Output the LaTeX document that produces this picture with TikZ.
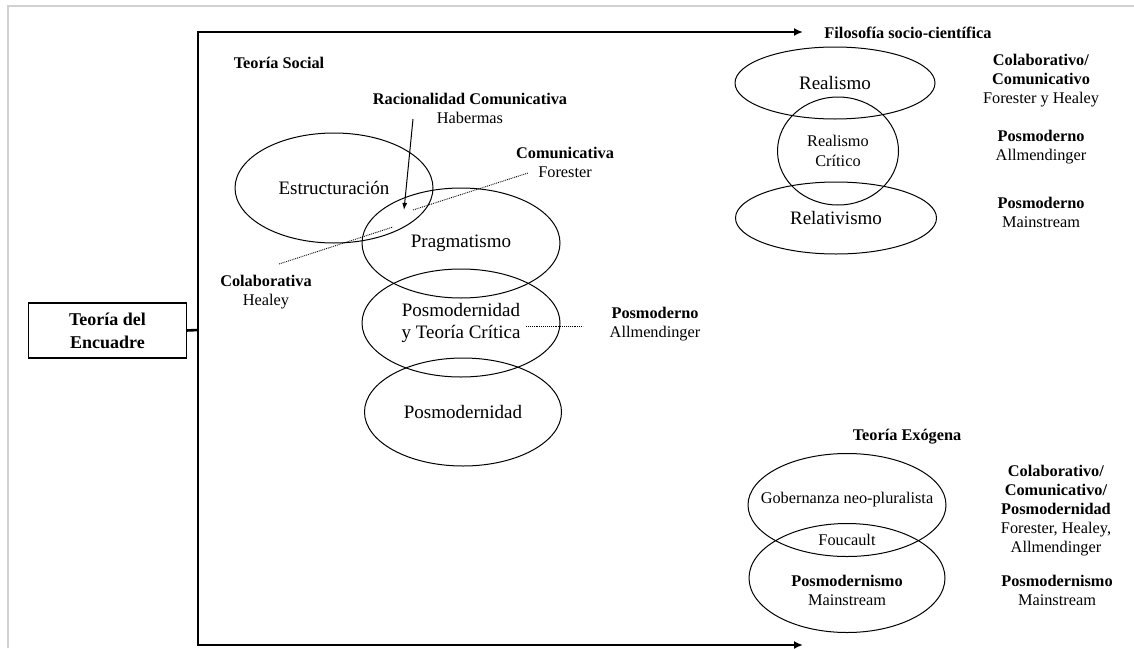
\documentclass[tikz,border=0pt]{standalone}
\usepackage{fontspec}
\setmainfont{Liberation Serif}
\usetikzlibrary{arrows.meta,shapes.geometric}

\tikzset{
  every node/.style={inner sep=0pt, outer sep=0pt},
  oval/.style={ellipse, draw, line width=1pt, align=center,
    font=\fontsize{19}{22}\selectfont},
  small/.style={align=center, font=\fontsize{16.3}{19}\selectfont},
  head/.style={align=center, font=\fontsize{16.3}{19}\selectfont\bfseries},
  frameline/.style={draw=black!18, line width=1.5pt},
  bracket/.style={line width=2.6pt},
  link/.style={densely dotted, line width=0.9pt},
  tip/.style={-{Latex[length=7pt,width=5pt]}},
}

\begin{document}
\begin{tikzpicture}[x=1pt,y=-1pt]
\useasboundingbox (0,0) rectangle (1134,648);
\fill[white] (0,0) rectangle (1134,648);

% page edge
\draw[frameline] (8,648) -- (8,6) -- (1134,6);

% main box and bracket
\node[draw, line width=1.3pt, minimum width=158pt, minimum height=55pt,
      align=center, font=\fontsize{18}{23}\selectfont\bfseries]
  (enc) at (107.5,330.5) {Teoría del\\Encuadre};
\coordinate (tl) at (198,32);
\coordinate (tr) at (803,32);
\coordinate (bl) at (198,645);
\coordinate (brr) at (803,645);
\coordinate (jn) at (198,330);
\draw[bracket, {Latex[length=9pt,width=8pt]}-{Latex[length=9pt,width=8pt]}]
  (tr) -- (tl) -- (bl) -- (brr);
\draw[bracket] (enc.east) -- (jn);

% ---- social theory block
\node[head] (soc) at (279,63) {Teoría Social};
\node[small] (rac) at (470,108) {\textbf{Racionalidad Comunicativa}\\Habermas};
\coordinate (ra) at (413,119);
\coordinate (rb) at (404,210);
\draw[line width=1pt, tip] (ra) -- (rb);

\node[oval, minimum width=198pt, minimum height=110pt] (est) at (334,188) {Estructuración};
\node[oval, minimum width=198pt, minimum height=110pt] (prag) at (461,243) {Pragmatismo};
\node[oval, minimum width=198pt, minimum height=108pt] (pytc) at (461,323)
  {Posmodernidad\\y Teoría Crítica};
\node[oval, minimum width=197pt, minimum height=108pt] (posm) at (463,412) {Posmodernidad};

\node[small] (com) at (565,162) {\textbf{Comunicativa}\\Forester};
\node[small] (col) at (266,292) {\textbf{Colaborativa}\\Healey};
\coordinate (c1) at (279,264);
\coordinate (c2) at (393,227);
\coordinate (f1) at (413,210);
\coordinate (f2) at (528,173);
\draw[link] (c1) -- (c2);
\draw[link] (f1) -- (f2);

\node[small] (pa) at (655,324) {\textbf{Posmoderno}\\Allmendinger};
\coordinate (p1) at (526,326);
\coordinate (p2) at (583,326);
\draw[link] (p1) -- (p2);

% ---- socio-scientific philosophy block
\node[head] (fil) at (908,33) {Filosofía socio-científica};
\node[oval, minimum width=200pt, minimum height=72pt] (real) at (835,83) {Realismo};
\node[oval, minimum width=121pt, minimum height=108pt,
      font=\fontsize{16.3}{20}\selectfont] (rc) at (838,151) {Realismo\\Crítico};
\node[oval, minimum width=201pt, minimum height=72pt] (rel) at (836,218) {Relativismo};

\node[small] (r1) at (1041,81) {\textbf{Colaborativo/}\\\textbf{Comunicativo}\\Forester y Healey};
\node[small] (r2) at (1041,147) {\textbf{Posmoderno}\\Allmendinger};
\node[small] (r3) at (1041,212) {\textbf{Posmoderno}\\Mainstream};

% ---- exogenous theory block
\node[head] (exo) at (907,437) {Teoría Exógena};
\node[oval, minimum width=198pt, minimum height=103pt] (gob) at (847,505) {};
\node[oval, minimum width=196pt, minimum height=109pt] (pmm) at (847,578) {};
\node[small] (gobt) at (847,500) {Gobernanza neo-pluralista};
\node[small] (fou) at (847,540) {Foucault};
\node[small] (pmmt) at (847,590) {\textbf{Posmodernismo}\\Mainstream};

\node[small] (r4) at (1056,511) {\textbf{Colaborativo/}\\\textbf{Comunicativo/}\\\textbf{Posmodernidad}\\Forester, Healey,\\Allmendinger};
\node[small] (r5) at (1057,590) {\textbf{Posmodernismo}\\Mainstream};
\end{tikzpicture}
\end{document}
